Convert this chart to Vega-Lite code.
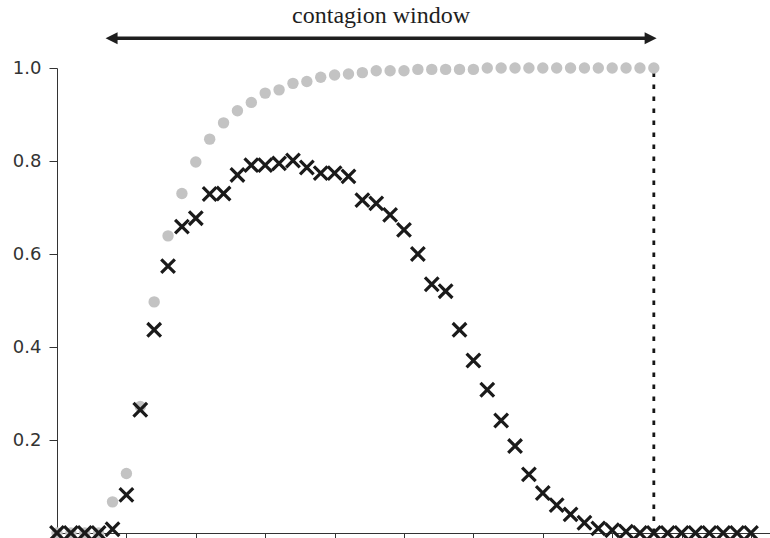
{
  "$schema": "https://vega.github.io/schema/vega-lite/v6.json",
  "autosize": "none",
  "width": 713,
  "height": 465,
  "padding": {"left": 57, "top": 68, "right": 0, "bottom": 5},
  "background": "white",
  "config": {"view": {"stroke": null}},
  "datasets": {
    "series": [
      {"t": 0, "share": 0, "cum": 0},
      {"t": 1, "share": 0, "cum": 0},
      {"t": 2, "share": 0, "cum": 0},
      {"t": 3, "share": 0, "cum": 0},
      {"t": 4, "share": 0.008, "cum": 0.067},
      {"t": 5, "share": 0.082, "cum": 0.128},
      {"t": 6, "share": 0.265, "cum": 0.272},
      {"t": 7, "share": 0.437, "cum": 0.497},
      {"t": 8, "share": 0.574, "cum": 0.639},
      {"t": 9, "share": 0.659, "cum": 0.73},
      {"t": 10, "share": 0.677, "cum": 0.798},
      {"t": 11, "share": 0.729, "cum": 0.847},
      {"t": 12, "share": 0.73, "cum": 0.882},
      {"t": 13, "share": 0.77, "cum": 0.908},
      {"t": 14, "share": 0.791, "cum": 0.926},
      {"t": 15, "share": 0.791, "cum": 0.946},
      {"t": 16, "share": 0.795, "cum": 0.953},
      {"t": 17, "share": 0.801, "cum": 0.967},
      {"t": 18, "share": 0.786, "cum": 0.971},
      {"t": 19, "share": 0.774, "cum": 0.98},
      {"t": 20, "share": 0.774, "cum": 0.985},
      {"t": 21, "share": 0.767, "cum": 0.987},
      {"t": 22, "share": 0.716, "cum": 0.99},
      {"t": 23, "share": 0.709, "cum": 0.994},
      {"t": 24, "share": 0.684, "cum": 0.994},
      {"t": 25, "share": 0.652, "cum": 0.994},
      {"t": 26, "share": 0.6, "cum": 0.997},
      {"t": 27, "share": 0.535, "cum": 0.997},
      {"t": 28, "share": 0.52, "cum": 0.997},
      {"t": 29, "share": 0.437, "cum": 0.997},
      {"t": 30, "share": 0.371, "cum": 0.997},
      {"t": 31, "share": 0.308, "cum": 1.0},
      {"t": 32, "share": 0.242, "cum": 1.0},
      {"t": 33, "share": 0.187, "cum": 1.0},
      {"t": 34, "share": 0.126, "cum": 1.0},
      {"t": 35, "share": 0.086, "cum": 1.0},
      {"t": 36, "share": 0.06, "cum": 1.0},
      {"t": 37, "share": 0.04, "cum": 1.0},
      {"t": 38, "share": 0.022, "cum": 1.0},
      {"t": 39, "share": 0.01, "cum": 1.0},
      {"t": 40, "share": 0.006, "cum": 1.0},
      {"t": 41, "share": 0.003, "cum": 1.0},
      {"t": 42, "share": 0, "cum": 1.0},
      {"t": 43, "share": 0, "cum": 1.0},
      {"t": 44, "share": 0, "cum": null},
      {"t": 45, "share": 0, "cum": null},
      {"t": 46, "share": 0, "cum": null},
      {"t": 47, "share": 0, "cum": null},
      {"t": 48, "share": 0, "cum": null},
      {"t": 49, "share": 0, "cum": null},
      {"t": 50, "share": 0, "cum": null}
    ],
    "window": [
      {"start": 3.93, "end": 42.77, "mid": 23.35, "level": 1.064, "textlevel": 1.0957, "label": "contagion window", "cut": 43, "base": 0, "top": 0.99}
    ],
    "heads": [
      {"x": 3.93, "level": 1.064, "dir": "left"},
      {"x": 42.77, "level": 1.064, "dir": "right"}
    ]
  },
  "layer": [
    {
      "data": {"name": "window"},
      "mark": {"type": "rule", "color": "#151515", "strokeWidth": 2.8, "strokeDash": [4.5, 7.5]},
      "encoding": {
        "x": {"field": "cut", "type": "quantitative", "scale": {"domain": [0, 51.37], "nice": false, "zero": false},
          "axis": {"values": [0, 5, 10, 15, 20, 25, 30, 35, 40, 45, 50], "labels": false, "tickSize": 8, "tickColor": "#333", "domainColor": "#333", "grid": false, "title": null, "domainWidth": 1, "tickWidth": 1}},
        "y": {"field": "base", "type": "quantitative", "scale": {"domain": [0, 1], "nice": false, "zero": false},
          "axis": {"values": [0.2, 0.4, 0.6, 0.8, 1.0], "format": ".1f", "tickSize": 8, "tickColor": "#333", "domainColor": "#333", "grid": false, "title": null,
            "labelFont": "DejaVu Sans", "labelFontSize": 18, "labelColor": "#333", "labelPadding": 8, "domainWidth": 1, "tickWidth": 1}},
        "y2": {"field": "top"}
      }
    },
    {
      "data": {"name": "series"},
      "transform": [{"filter": "datum.cum != null"}],
      "mark": {"type": "point", "filled": true, "color": "#c3c3c3", "opacity": 1, "size": 130},
      "encoding": {
        "x": {"field": "t", "type": "quantitative"},
        "y": {"field": "cum", "type": "quantitative"}
      }
    },
    {
      "data": {"name": "series"},
      "mark": {"type": "point", "shape": "M-1,-1L1,1M-1,1L1,-1", "filled": false, "stroke": "#1a1a1a", "strokeWidth": 3.2, "opacity": 1, "size": 185},
      "encoding": {
        "x": {"field": "t", "type": "quantitative"},
        "y": {"field": "share", "type": "quantitative"}
      }
    },
    {
      "data": {"name": "window"},
      "mark": {"type": "rule", "color": "#1e1e1e", "strokeWidth": 3.5},
      "encoding": {
        "x": {"field": "start", "type": "quantitative"},
        "x2": {"field": "end"},
        "y": {"field": "level", "type": "quantitative"}
      }
    },
    {
      "data": {"name": "heads"},
      "mark": {"type": "point", "filled": true, "color": "#1e1e1e", "opacity": 1, "size": 144},
      "encoding": {
        "x": {"field": "x", "type": "quantitative"},
        "y": {"field": "level", "type": "quantitative"},
        "shape": {"field": "dir", "type": "nominal", "scale": {"domain": ["left", "right"], "range": ["M-1,0L1,-1L1,1Z", "M1,0L-1,-1L-1,1Z"]}, "legend": null}
      }
    },
    {
      "data": {"name": "window"},
      "mark": {"type": "text", "font": "Liberation Serif", "fontSize": 24, "color": "#1e1e1e", "align": "center", "baseline": "alphabetic"},
      "encoding": {
        "x": {"field": "mid", "type": "quantitative"},
        "y": {"field": "textlevel", "type": "quantitative"},
        "text": {"field": "label"}
      }
    }
  ]
}
